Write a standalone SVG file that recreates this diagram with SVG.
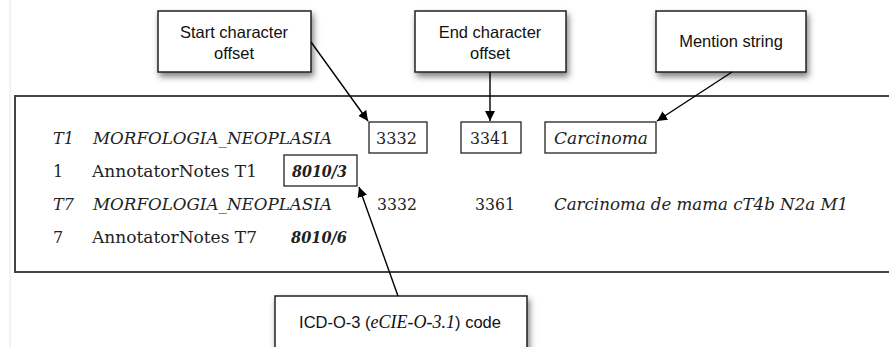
<svg xmlns="http://www.w3.org/2000/svg" width="889" height="347" viewBox="0 0 889 347">
<defs>
<filter id="sh" x="-10%" y="-20%" width="125%" height="160%">
<feDropShadow dx="2" dy="4" stdDeviation="3" flood-color="#000" flood-opacity="0.5"/>
</filter>
<marker id="ah" viewBox="0 0 10 10" refX="10" refY="5" markerWidth="10" markerHeight="10" markerUnits="userSpaceOnUse" orient="auto">
<path d="M0,0 L10,5 L0,10 z" fill="#000"/>
</marker>
<style>
.call{fill:#fff;stroke:#222;stroke-width:1.5;filter:url(#sh)}
.lbl{font-family:"Liberation Sans",Arial,sans-serif;font-size:16.5px;fill:#111;text-anchor:middle}
.row{font-family:"DejaVu Serif","Noto Serif",serif;font-size:16px;fill:#222}
.it{font-style:italic}
.bi{font-style:italic;font-weight:bold}
.hb{fill:none;stroke:#222;stroke-width:1.3}
.con{stroke:#000;stroke-width:1.4;fill:none;marker-end:url(#ah)}
</style>
</defs>
<rect width="889" height="347" fill="#fff"/>
<line x1="10" y1="0" x2="10" y2="347" stroke="#eee" stroke-width="1.5"/>
<g id="panel">
<path d="M895,96 L15,96 L15,272 L895,272" fill="none" stroke="#444" stroke-width="2"/>
<g id="row1">
<text class="row it" x="53" y="144">T1</text>
<text class="row it" x="93" y="144" textLength="239" lengthAdjust="spacingAndGlyphs">MORFOLOGIA_NEOPLASIA</text>
<rect class="hb" x="369" y="122" width="58" height="31"/>
<text class="row" x="376" y="144" textLength="41" lengthAdjust="spacingAndGlyphs">3332</text>
<rect class="hb" x="461" y="122" width="60" height="31"/>
<text class="row" x="470" y="144" textLength="40" lengthAdjust="spacingAndGlyphs">3341</text>
<rect class="hb" x="545" y="122" width="111" height="31"/>
<text class="row it" x="554" y="144" textLength="94" lengthAdjust="spacingAndGlyphs">Carcinoma</text>
</g>
<g id="row2">
<text class="row" x="53" y="177">1</text>
<text class="row" x="92" y="177" textLength="165" lengthAdjust="spacingAndGlyphs">AnnotatorNotes T1</text>
<rect class="hb" x="284" y="155" width="73" height="31"/>
<text class="row bi" x="292" y="177" textLength="55" lengthAdjust="spacingAndGlyphs">8010/3</text>
</g>
<g id="row3">
<text class="row it" x="53" y="210">T7</text>
<text class="row it" x="93" y="210" textLength="239" lengthAdjust="spacingAndGlyphs">MORFOLOGIA_NEOPLASIA</text>
<text class="row" x="377" y="210" textLength="40" lengthAdjust="spacingAndGlyphs">3332</text>
<text class="row" x="475" y="210" textLength="40" lengthAdjust="spacingAndGlyphs">3361</text>
<text class="row it" x="554" y="210" textLength="294" lengthAdjust="spacingAndGlyphs">Carcinoma de mama cT4b N2a M1</text>
</g>
<g id="row4">
<text class="row" x="53" y="243">7</text>
<text class="row" x="92" y="243" textLength="165" lengthAdjust="spacingAndGlyphs">AnnotatorNotes T7</text>
<text class="row bi" x="291" y="243" textLength="56" lengthAdjust="spacingAndGlyphs">8010/6</text>
</g>
</g>
<g id="start">
<rect class="call" x="158" y="11" width="153" height="61"/>
<text class="lbl" x="234" y="38">Start character</text>
<text class="lbl" x="234" y="59">offset</text>
</g>
<g id="end">
<rect class="call" x="415" y="11" width="151" height="61"/>
<text class="lbl" x="490" y="38">End character</text>
<text class="lbl" x="490" y="59">offset</text>
</g>
<g id="mention">
<rect class="call" x="656" y="11" width="150" height="61"/>
<text class="lbl" x="731" y="47">Mention string</text>
</g>
<g id="icd">
<rect class="call" x="275" y="296" width="252" height="58"/>
<text class="lbl" x="400" y="328">ICD-O-3 (<tspan font-family="'Liberation Serif','Times New Roman',serif" font-style="italic" font-size="18">eCIE-O-3.1</tspan>) code</text>
</g>
<g id="connectors">
<line class="con" x1="311" y1="42" x2="368" y2="121"/>
<line class="con" x1="490" y1="72" x2="490" y2="121"/>
<line class="con" x1="732" y1="72" x2="657" y2="121"/>
<line class="con" x1="398" y1="296" x2="359" y2="187"/>
</g>
</svg>
